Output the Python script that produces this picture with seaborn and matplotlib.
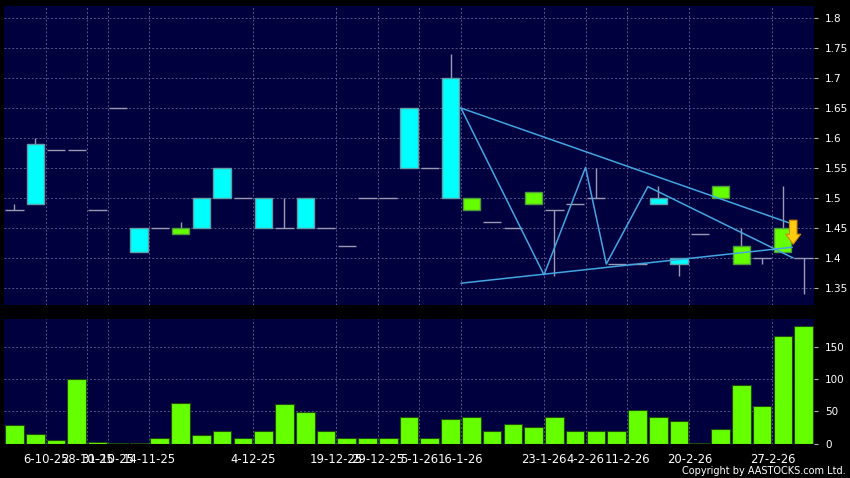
import numpy as np
import pandas as pd
import matplotlib
matplotlib.use("Agg")
import matplotlib.pyplot as plt
import seaborn as sns

# daily OHLC (one entry per trading day)
opens = [1.48, 1.49, 1.58, 1.58, 1.48, 1.65, 1.41, 1.45, 1.45, 1.45,
         1.50, 1.50, 1.45, 1.45, 1.45, 1.45, 1.42, 1.50, 1.50, 1.55,
         1.55, 1.50, 1.50, 1.46, 1.45, 1.51, 1.48, 1.49, 1.50, 1.39,
         1.39, 1.49, 1.39, 1.44, 1.52, 1.42, 1.40, 1.45, 1.40]
highs = [1.49, 1.60, 1.58, 1.58, 1.48, 1.65, 1.45, 1.45, 1.46, 1.50,
         1.55, 1.50, 1.50, 1.50, 1.50, 1.45, 1.42, 1.50, 1.50, 1.65,
         1.55, 1.74, 1.50, 1.46, 1.45, 1.51, 1.48, 1.49, 1.55, 1.39,
         1.39, 1.52, 1.40, 1.44, 1.52, 1.45, 1.40, 1.52, 1.40]
lows = [1.48, 1.49, 1.58, 1.58, 1.48, 1.65, 1.41, 1.45, 1.44, 1.45,
        1.50, 1.50, 1.45, 1.45, 1.45, 1.45, 1.42, 1.50, 1.50, 1.55,
        1.55, 1.50, 1.48, 1.46, 1.45, 1.49, 1.37, 1.49, 1.50, 1.39,
        1.39, 1.49, 1.37, 1.44, 1.50, 1.39, 1.39, 1.41, 1.34]
closes = [1.48, 1.59, 1.58, 1.58, 1.48, 1.65, 1.45, 1.45, 1.44, 1.50,
          1.55, 1.50, 1.50, 1.45, 1.50, 1.45, 1.42, 1.50, 1.50, 1.65,
          1.55, 1.70, 1.48, 1.46, 1.45, 1.49, 1.48, 1.49, 1.50, 1.39,
          1.39, 1.50, 1.40, 1.44, 1.50, 1.39, 1.40, 1.41, 1.40]
volumes = [29, 15, 5, 100, 3, 1, 1, 9, 64, 13,
           19, 9, 19, 61, 49, 19, 9, 9, 9, 41,
           9, 39, 41, 19, 31, 25, 41, 19, 19, 19,
           53, 41, 35, 1, 23, 92, 59, 168, 184]

# date labels and the day they belong to
label_days = [1, 3, 4, 6, 11, 15, 17, 19, 21, 25, 27, 29, 32, 36]
date_labels = ["6-10-25", "28-10-25", "31-10-25", "14-11-25", "4-12-25",
               "19-12-25", "29-12-25", "5-1-26", "16-1-26", "23-1-26",
               "4-2-26", "11-2-26", "20-2-26", "27-2-26"]

# trend lines drawn on the chart (day index, price)
upper_x = [21.5, 37.35]
upper_y = [1.65, 1.458]
lower_x = [21.5, 37.45]
lower_y = [1.358, 1.418]
zigzag_x = [21.5, 25.5, 27.5, 28.5, 30.5, 37.5]
zigzag_y = [1.65, 1.372, 1.551, 1.39, 1.519, 1.40]
signal_day = 37.5
signal_from = 1.463
signal_to = 1.423

price_ticks = [1.35, 1.4, 1.45, 1.5, 1.55, 1.6, 1.65, 1.7, 1.75, 1.8]
volume_ticks = [0, 50, 100, 150]

bg = "#00003f"
grid_c = "#55558c"
cyan = "#00ffff"
green = "#66ff00"
wick_c = "#9a9ab4"
line_c = "#43a6e0"

sns.set_theme(style="dark", rc={"axes.facecolor": bg, "figure.facecolor": "black"})
plt.rcParams["font.family"] = ["DejaVu Sans"]

df = pd.DataFrame({"open": opens, "high": highs, "low": lows,
                   "close": closes, "volume": volumes})
df["day"] = np.arange(len(df))
up = df[df["close"] > df["open"]]
down = df[df["close"] < df["open"]]
flat = df[df["close"] == df["open"]]

fig = plt.figure(figsize=(8.5, 4.78), dpi=100, facecolor="black")
ax = fig.add_axes([4 / 850, 173 / 478, 810 / 850, 299 / 478])
axv = fig.add_axes([4 / 850, 34.5 / 478, 810 / 850, 124.5 / 478])

# candles
ax.vlines(df["day"], df["low"], df["high"], color=wick_c, lw=1, zorder=2)
ax.bar(up["day"], up["close"] - up["open"], bottom=up["open"], width=0.83,
       color=cyan, edgecolor="#5f9fa8", linewidth=1, zorder=3)
ax.bar(down["day"], down["close"] - down["open"], bottom=down["open"], width=0.83,
       color=green, edgecolor="#4f9a3a", linewidth=1, zorder=3)
ax.hlines(flat["close"], flat["day"] - 0.44, flat["day"] + 0.44,
          color=wick_c, lw=1, zorder=3)

# trend lines
ax.plot(upper_x, upper_y, color=line_c, lw=1.1, zorder=4)
ax.plot(lower_x, lower_y, color=line_c, lw=1.1, zorder=4)
ax.plot(zigzag_x, zigzag_y, color=line_c, lw=1.1, zorder=4)
ax.annotate("", xy=(signal_day, signal_to), xytext=(signal_day, signal_from),
            arrowprops=dict(arrowstyle="simple,head_width=0.9,head_length=0.6,tail_width=0.45",
                            fc="#ffcc11", ec="#d08a00", lw=0.8,
                            shrinkA=0, shrinkB=0), zorder=5)

# volume
sns.barplot(x=df["day"], y=df["volume"], native_scale=True, color=green,
            saturation=1, width=0.9, edgecolor="#1d4a0c", linewidth=0.8, ax=axv)

grid_pos = [d + 0.5 for d in label_days]
for a in (ax, axv):
    a.set_facecolor(bg)
    a.set_xlim(-0.5, 38.5)
    a.set_xticks(grid_pos)
    a.yaxis.tick_right()
    a.grid(True, color=grid_c, linestyle=(0, (2, 2)), linewidth=0.7)
    a.set_axisbelow(True)
    for s in a.spines.values():
        s.set_visible(False)
    a.set_xlabel("")
    a.set_ylabel("")
    a.tick_params(axis="both", colors="#b0b0b0", labelcolor="white",
                  labelsize=7.5, length=3, width=0.8, pad=5)

ax.set_ylim(1.3217, 1.82)
ax.set_yticks(price_ticks)
ax.set_yticklabels([f"{v:g}" for v in price_ticks])
ax.set_xticklabels([])
ax.tick_params(axis="x", length=0)

axv.set_ylim(0, 194.5)
axv.set_yticks(volume_ticks)
axv.set_yticklabels([str(v) for v in volume_ticks])
axv.set_xticklabels(date_labels)
axv.tick_params(axis="x", pad=4, labelsize=8.4)

fig.text(846 / 850, 1 - 471 / 478, "Copyright by AASTOCKS.com Ltd.",
         ha="right", va="center", fontsize=7, color="white")

fig.savefig("out.png", dpi=100, facecolor="black")
